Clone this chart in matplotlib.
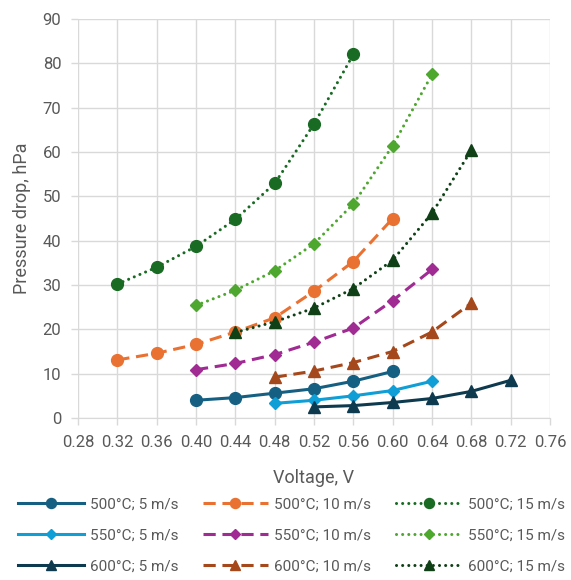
import matplotlib
matplotlib.use("Agg")
import matplotlib.pyplot as plt

plt.rcParams['font.family'] = ['Roboto', 'DejaVu Sans']

# series: voltages (V) and pressure drops (hPa)
v_500_5 = [0.40, 0.44, 0.48, 0.52, 0.56, 0.60]
p_500_5 = [4.0, 4.6, 5.6, 6.6, 8.3, 10.5]
v_550_5 = [0.48, 0.52, 0.56, 0.60, 0.64]
p_550_5 = [3.3, 4.0, 5.0, 6.2, 8.3]
v_600_5 = [0.52, 0.56, 0.60, 0.64, 0.68, 0.72]
p_600_5 = [2.5, 2.8, 3.5, 4.4, 6.0, 8.5]

v_500_10 = [0.32, 0.36, 0.40, 0.44, 0.48, 0.52, 0.56, 0.60]
p_500_10 = [13.1, 14.6, 16.6, 19.4, 22.6, 28.6, 35.3, 45.0]
v_550_10 = [0.40, 0.44, 0.48, 0.52, 0.56, 0.60, 0.64]
p_550_10 = [10.9, 12.3, 14.3, 17.1, 20.3, 26.5, 33.5]
v_600_10 = [0.48, 0.52, 0.56, 0.60, 0.64, 0.68]
p_600_10 = [9.2, 10.6, 12.5, 15.0, 19.4, 25.9]

v_500_15 = [0.32, 0.36, 0.40, 0.44, 0.48, 0.52, 0.56]
p_500_15 = [30.2, 34.0, 38.7, 44.8, 52.9, 66.3, 82.0]
v_550_15 = [0.40, 0.44, 0.48, 0.52, 0.56, 0.60, 0.64]
p_550_15 = [25.4, 28.8, 33.2, 39.3, 48.3, 61.4, 77.5]
v_600_15 = [0.44, 0.48, 0.52, 0.56, 0.60, 0.64, 0.68]
p_600_15 = [19.3, 21.7, 24.8, 29.2, 35.6, 46.2, 60.4]

x_ticks = [0.28, 0.32, 0.36, 0.40, 0.44, 0.48, 0.52, 0.56, 0.60, 0.64, 0.68, 0.72, 0.76]
y_ticks = [0, 10, 20, 30, 40, 50, 60, 70, 80, 90]

fig = plt.figure(figsize=(5.71, 5.80), dpi=100)
ax = fig.add_axes([78/571, 1-418/580, 472/571, 399/580])

dash = (0, (4, 2.2))
dot = (0, (0.01, 2.0))

series = [
    (v_500_5, p_500_5, '500°C; 5 m/s', '#156082', '-', 'o', 8.5),
    (v_550_5, p_550_5, '550°C; 5 m/s', '#0F9ED5', '-', 'D', 6.5),
    (v_600_5, p_600_5, '600°C; 5 m/s', '#0D3A4E', '-', '^', 9),
    (v_500_10, p_500_10, '500°C; 10 m/s', '#E97132', dash, 'o', 8.5),
    (v_550_10, p_550_10, '550°C; 10 m/s', '#A02B93', dash, 'D', 6.5),
    (v_600_10, p_600_10, '600°C; 10 m/s', '#A5481B', dash, '^', 9),
    (v_500_15, p_500_15, '500°C; 15 m/s', '#196B24', dot, 'o', 8.5),
    (v_550_15, p_550_15, '550°C; 15 m/s', '#4EA72E', dot, 'D', 6.5),
    (v_600_15, p_600_15, '600°C; 15 m/s', '#0F4016', dot, '^', 9),
]

handles = []
for xs, ys, label, color, ls, mk, ms in series:
    (h,) = ax.plot(xs, ys, color=color, linestyle=ls, linewidth=2.2,
                   marker=mk, markersize=ms, markeredgecolor=color,
                   markerfacecolor=color, label=label, zorder=3,
                   dash_capstyle='round' if ls is dot else 'butt')
    handles.append(h)

ax.set_xlim(0.28, 0.76)
ax.set_ylim(0, 90)
ax.set_xticks(x_ticks)
ax.set_xticklabels([f"{t:.2f}" for t in x_ticks])
ax.set_yticks(y_ticks)

grid_c = '#D9D9D9'
ax.grid(True, color=grid_c, linewidth=1.0, zorder=0)
for s in ax.spines.values():
    s.set_visible(False)
ax.spines['bottom'].set_visible(True)
ax.spines['bottom'].set_color(grid_c)
ax.tick_params(axis='both', colors=grid_c, length=5, width=1.0,
               labelcolor='#595959', labelsize=12)
ax.tick_params(axis='x', pad=7)
ax.tick_params(axis='y', pad=7)

ax.set_xlabel('Voltage, V', color='#595959', fontsize=13, labelpad=14)
ax.set_ylabel('Pressure drop, hPa', color='#595959', fontsize=13, labelpad=8)

leg = fig.legend(handles=handles, loc='upper center',
                 bbox_to_anchor=(0.51, 1-484/580), ncol=3, frameon=False,
                 fontsize=11, handlelength=4.3, handletextpad=0.4,
                 columnspacing=1.6, labelspacing=1.1, markerscale=0.85)
for t in leg.get_texts():
    t.set_color('#595959')

fig.savefig('out.png', dpi=100)
